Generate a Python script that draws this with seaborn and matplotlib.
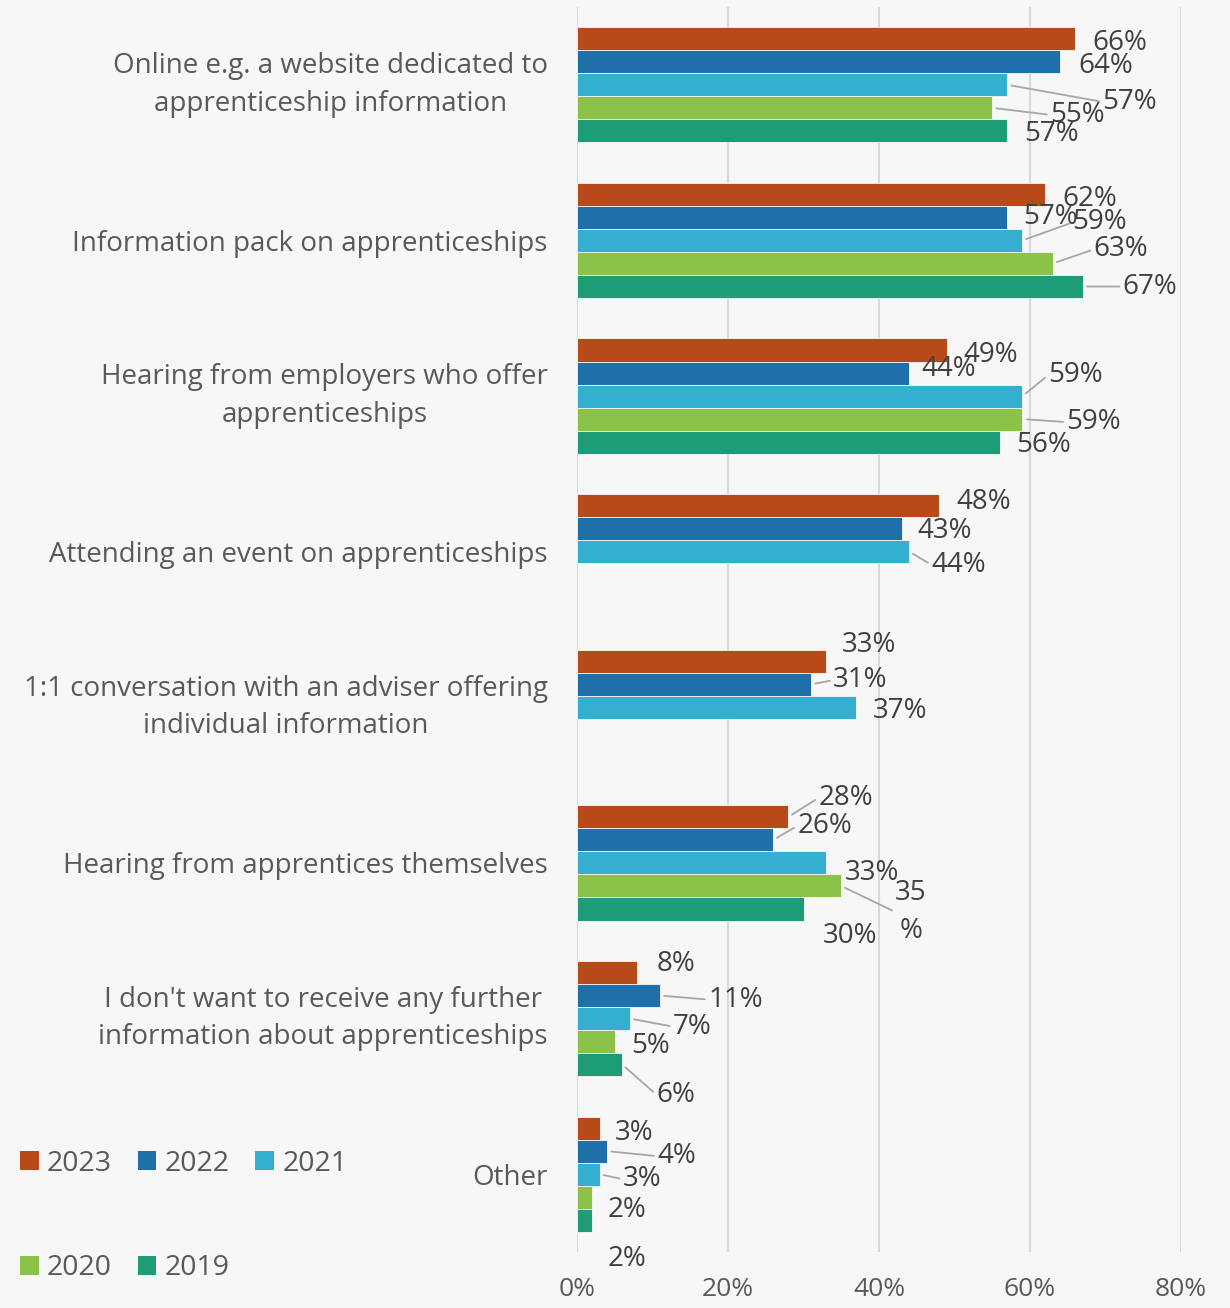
import numpy as np
import pandas as pd
import matplotlib.pyplot as plt
from matplotlib.patches import Patch
import seaborn as sns

categories = [
    "Online e.g. a website dedicated to\napprenticeship information",
    "Information pack on apprenticeships",
    "Hearing from employers who offer\napprenticeships",
    "Attending an event on apprenticeships",
    "1:1 conversation with an adviser offering\nindividual information",
    "Hearing from apprentices themselves",
    "I don't want to receive any further\ninformation about apprenticeships",
    "Other",
]
years = ["2023", "2022", "2021", "2020", "2019"]
v2023 = [66, 62, 49, 48, 33, 28, 8, 3]
v2022 = [64, 57, 44, 43, 31, 26, 11, 4]
v2021 = [57, 59, 59, 44, 37, 33, 7, 3]
v2020 = [55, 63, 59, np.nan, np.nan, 35, 5, 2]
v2019 = [57, 67, 56, np.nan, np.nan, 30, 6, 2]
x_ticks = [0, 20, 40, 60, 80]

colors = ["#B84A1A", "#1F6FA8", "#35AFD0", "#8BC34A", "#1E9C78"]

# data label placement (pixels right / down of the bar end), True = leader line
label_pos = {
    (0, 0): (17, 1, False), (0, 1): (18, 1, False), (0, 2): (95, 14, True),
    (0, 3): (58, 4, True), (0, 4): (17, 0, False),
    (1, 0): (17, 2, False), (1, 1): (16, -3, False), (1, 2): (50, -21, True),
    (1, 3): (41, -17, True), (1, 4): (40, -3, True),
    (2, 0): (16, 2, False), (2, 1): (12, -7, False), (2, 2): (26, -24, True),
    (2, 3): (44, 0, True), (2, 4): (16, 0, False),
    (3, 0): (17, -7, False), (3, 1): (16, -1, False), (3, 2): (22, 10, True),
    (4, 0): (16, -19, False), (4, 1): (22, -7, True), (4, 2): (16, 1, False),
    (5, 0): (30, -22, True), (5, 1): (24, -17, True), (5, 2): (19, 7, False),
    (5, 3): (54, 23, True), (5, 4): (19, 24, False),
    (6, 0): (19, -11, False), (6, 1): (48, 1, True), (6, 2): (43, 5, True),
    (6, 3): (16, 1, False), (6, 4): (34, 27, True),
    (7, 0): (15, 2, False), (7, 1): (50, 2, True), (7, 2): (23, 2, True),
    (7, 3): (16, 10, False), (7, 4): (16, 36, False),
}
wrapped = {(5, 3): "35\n%"}

rows = []
for y, vals in zip(years, [v2023, v2022, v2021, v2020, v2019]):
    for c, v in zip(categories, vals):
        rows.append({"category": c, "year": y, "value": v})
df = pd.DataFrame(rows)

sns.set_theme(style="white")
plt.rcParams["font.family"] = ["Open Sans", "DejaVu Sans"]
bg = "#F7F7F7"

fig = plt.figure(figsize=(12.3, 13.08), dpi=100, facecolor=bg)
ax = fig.add_axes([577 / 1230, 1 - 1252 / 1308, (1181 - 577) / 1230, (1252 - 7) / 1308])
ax.set_facecolor(bg)

sns.barplot(data=df, y="category", x="value", hue="year", hue_order=years,
            order=categories, palette=colors, saturation=1, orient="h", width=0.74,
            edgecolor=bg, linewidth=0.6, legend=False, ax=ax)

ax.set_xlim(0, 80)
ax.set_ylim(7.5, -0.5)
ax.set_xticks(x_ticks)
ax.set_xticklabels([f"{t}%" for t in x_ticks])
ax.grid(axis="x", color="#D9D9D9", linewidth=1.5)
ax.set_axisbelow(True)
for s in ax.spines.values():
    s.set_visible(False)
ax.set_xlabel("")
ax.set_ylabel("")
ax.tick_params(axis="y", length=0, pad=21, labelsize=20, labelcolor="#595959")
ax.tick_params(axis="x", length=0, pad=18, labelsize=19, labelcolor="#595959")
for lab in ax.get_yticklabels():
    lab.set_multialignment("center")
    lab.set_linespacing(1.45)
    if "\n" in lab.get_text():
        lab.set_verticalalignment("center")

for hi, cont in enumerate(ax.containers):
    for bar in cont:
        w = bar.get_width()
        if not np.isfinite(w) or w == 0:
            continue
        yc = bar.get_y() + bar.get_height() / 2
        ci = int(round(yc))
        dx, dy, leader = label_pos.get((ci, hi), (16, 0, False))
        txt = wrapped.get((ci, hi), f"{w:.0f}%")
        kw = {}
        if leader:
            kw["arrowprops"] = dict(arrowstyle="-", color="#A6A6A6", lw=1.3,
                                    shrinkA=0, shrinkB=3, relpos=(0, 0.5))
        ax.annotate(txt, xy=(w, yc), xytext=(dx, -dy - 3), textcoords="offset pixels",
                    ha="left", va="center", fontsize=20, color="#404040",
                    multialignment="center", linespacing=1.5, **kw)

# legend filled row by row: 2023 2022 2021 / 2020 2019
leg_order = [0, 3, 1, 4, 2]
handles = [Patch(facecolor=colors[i], edgecolor="none") for i in leg_order]
fig.legend(handles, [years[i] for i in leg_order], loc="center left",
           bbox_to_anchor=(20 / 1230, 1 - 1216 / 1308),
           ncol=3, frameon=False, fontsize=20.5, labelcolor="#595959",
           handlelength=0.65, handleheight=0.65, handletextpad=0.3,
           columnspacing=0.9, labelspacing=2.7, borderpad=0, borderaxespad=0)

fig.savefig("out.png", dpi=100, facecolor=bg)
